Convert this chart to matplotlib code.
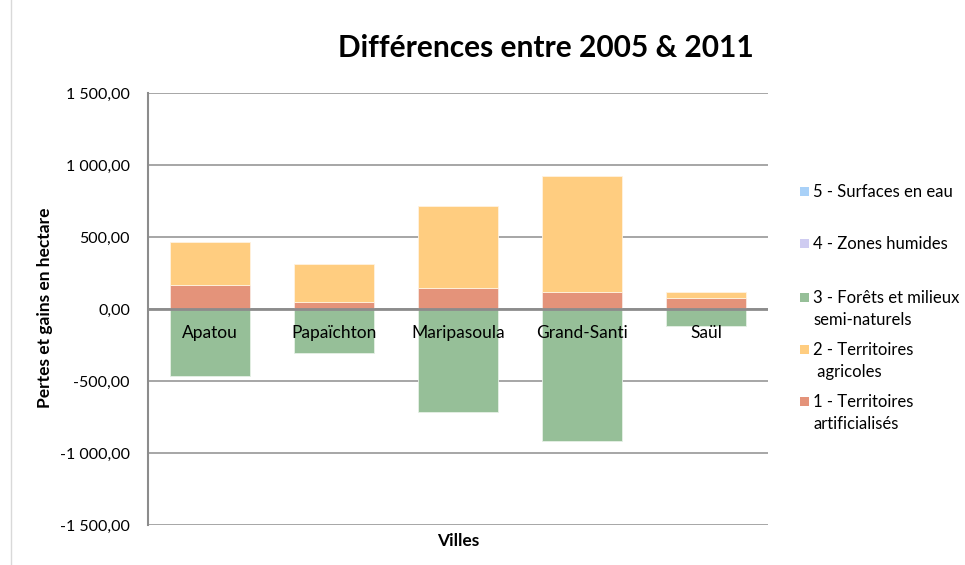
import matplotlib
matplotlib.use("Agg")
import matplotlib.pyplot as plt
from matplotlib.ticker import FuncFormatter, MultipleLocator
from matplotlib.patches import Rectangle
import numpy as np

villes = ["Apatou", "Papaïchton", "Maripasoula", "Grand-Santi", "Saül"]
s1_artificialises = [167, 51, 144, 118, 74]
s2_agricoles = [298, 259, 574, 803, 44]
s3_forets = [-463, -307, -715, -919, -116]
s4_humides = [0, 0, 0, 0, 0]
s5_eau = [0, 0, 0, 0, 0]

series_labels = ["1 - Territoires\nartificialisés", "2 - Territoires\n agricoles",
                 "3 - Forêts et milieux\nsemi-naturels", "4 - Zones humides",
                 "5 - Surfaces en eau"]
colors = ["#E4937A", "#FFCD80", "#96BF98", "#CFCCF1", "#A9D1F8"]

plt.rcParams['font.family'] = ['Lato', 'DejaVu Sans']

fig = plt.figure(figsize=(9.65, 5.65), dpi=100)
ax = fig.add_axes([148/965, 1-525/565, (768-148)/965, (525-93)/565])

x = np.arange(len(villes))
w = 0.64
s1 = np.array(s1_artificialises, float)
s2 = np.array(s2_agricoles, float)
ax.bar(x, s1, w, color=colors[0], edgecolor="#F8E8E0", linewidth=0.6, zorder=2)
ax.bar(x, s2, w, bottom=s1, color=colors[1], edgecolor="#FFF3E0", linewidth=0.6, zorder=2)
ax.bar(x, s3_forets, w, color=colors[2], edgecolor="#E6F0E6", linewidth=0.6, zorder=2)
ax.bar(x, s4_humides, w, bottom=s3_forets, color=colors[3], zorder=2)
ax.bar(x, s5_eau, w, bottom=s3_forets, color=colors[4], zorder=2)

ax.set_xlim(-0.5, 4.5)
ax.set_ylim(-1500, 1500)
ax.yaxis.set_major_locator(MultipleLocator(500))

def fmt(v, pos):
    s = f"{abs(v):,.2f}".replace(",", " ").replace(".", ",")
    return ("-" if v < 0 else "") + s
ax.yaxis.set_major_formatter(FuncFormatter(fmt))
ax.tick_params(axis='y', length=0, pad=13, labelsize=11.5, colors="#000000")
ax.set_xticks([])
ax.grid(axis='y', color="#A6A6A6", linewidth=1.4, zorder=0)
for sp in ["top", "right", "bottom"]:
    ax.spines[sp].set_visible(False)
ax.spines["left"].set_color("#8C8C8C")
ax.spines["left"].set_linewidth(1.5)
ax.axhline(0, color="#8C8C8C", linewidth=2, zorder=3)

for xi, name in zip(x, villes):
    ax.text(xi, -165, name, ha="center", va="center", fontsize=12.5, zorder=4)

fig.text(546/965, 1-48/565, "Différences entre 2005 & 2011", ha="center", va="center",
         fontsize=21.5, fontweight="bold")
fig.text(45/965, 1-308/565, "Pertes et gains en hectare", rotation=90, ha="center",
         va="center", fontsize=12.5, fontweight="bold")
fig.text(458/965, 1-541/565, "Villes", ha="center", va="center", fontsize=12.5,
         fontweight="bold")

# chart-area left border
fig.add_artist(plt.Line2D([11/965, 11/965], [0, 1], color="#D9D9D9", linewidth=1))

# legend (manual, reversed order)
leg_y = [191, 243, 297, 349, 401]
order = [4, 3, 2, 1, 0]
for yy, i in zip(leg_y, order):
    fig.add_artist(Rectangle((800/965, 1-(yy+5)/565), 9/965, 9/565,
                             transform=fig.transFigure, color=colors[i], linewidth=0))
    fig.text(813/965, 1-(yy-7)/565, series_labels[i], ha="left", va="top",
             fontsize=12, linespacing=1.45)

fig.savefig("out.png", dpi=100)
